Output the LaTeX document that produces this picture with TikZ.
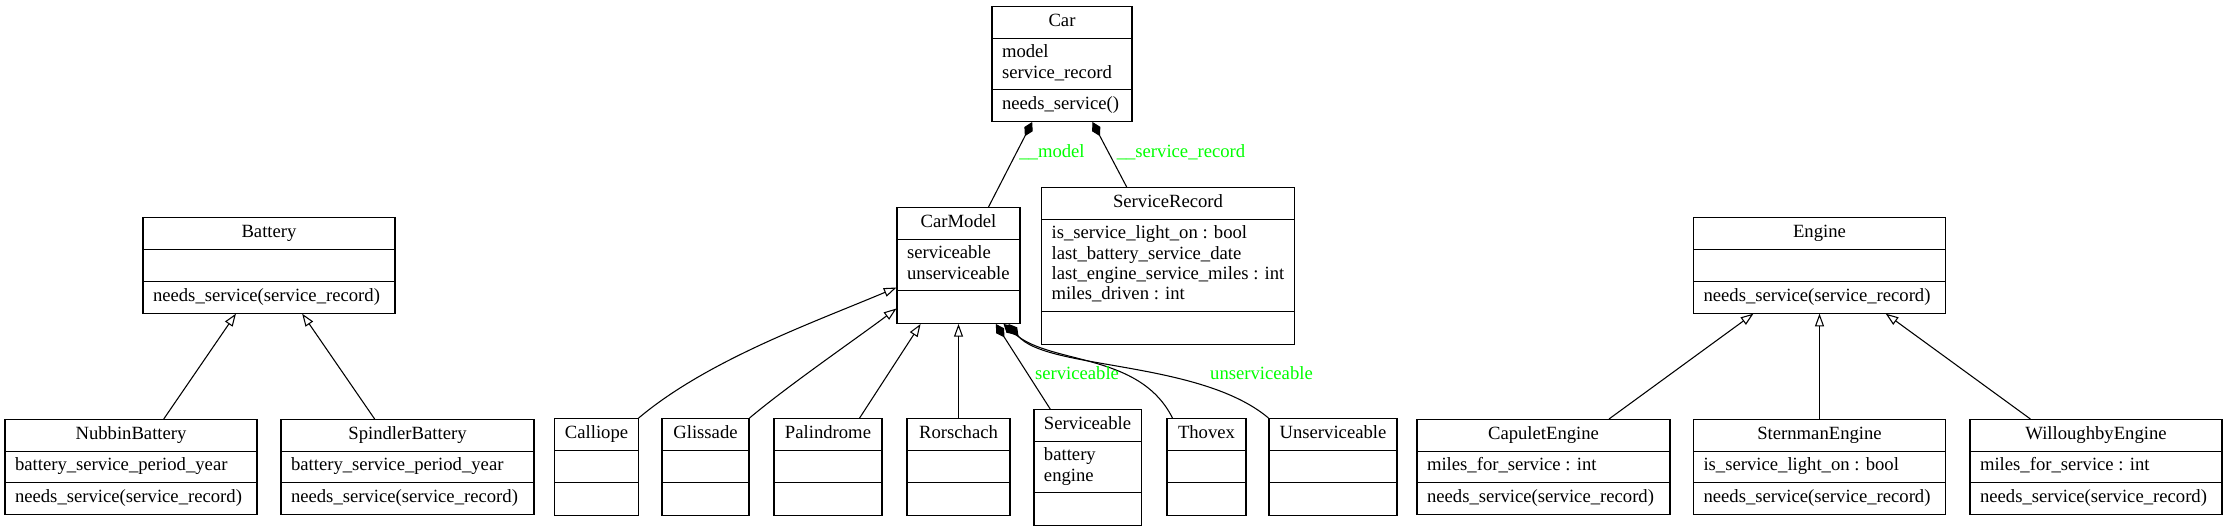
\documentclass[tikz,border=0pt]{standalone}
\usepackage{fontspec}
\setmainfont{Liberation Serif}
\usetikzlibrary{shapes.multipart,arrows.meta,calc}

% height of an empty compartment
\newcommand{\nofield}{\rule[-4.3pt]{0pt}{16pt}}

\begin{document}
\begin{tikzpicture}[x=0.75pt,y=-0.75pt,
    font=\fontsize{14pt}{15.25pt}\selectfont,
    uml/.style={draw, line width=0.8pt, anchor=north,
      rectangle split, rectangle split parts=3,
      rectangle split part align={center,left,left}, align=left,
      inner xsep=7.5pt, inner ysep=3.8pt, minimum width=#1*0.75pt},
    lbl/.style={text=green, inner sep=0pt},
    isa/.style={line width=0.8pt, -{Triangle[open,length=9.5pt,width=6.75pt]}},
    owns/.style={line width=0.8pt, {Diamond[length=12pt,width=7pt]}-}]
    \path[use as bounding box, fill=white] (0,0) rectangle (2223,527);

    % top
    \node[uml=140] (car) at (1062,6) {\strut Car%
      \nodepart{two}\strut model\\\strut service\_record%
      \nodepart{three}\strut needs\_service()};
    \node[uml=123] (carmodel) at (958.5,207) {\strut CarModel%
      \nodepart{two}\strut serviceable\\\strut unserviceable%
      \nodepart{three}\nofield};
    \node[uml=248] (record) at (1168,187) {\strut ServiceRecord%
      \nodepart{two}\strut is\_service\_light\_on : bool\\\strut last\_battery\_service\_date\\%
      \strut last\_engine\_service\_miles : int\\\strut miles\_driven : int%
      \nodepart{three}\nofield};
    \node[uml=252] (battery) at (269,217) {\strut Battery%
      \nodepart{two}\nofield
      \nodepart{three}\strut needs\_service(service\_record)};
    \node[uml=252] (engine) at (1819.5,217) {\strut Engine%
      \nodepart{two}\nofield
      \nodepart{three}\strut needs\_service(service\_record)};

    % batteries and engines
    \node[uml=252] (nubbin) at (131,419) {\strut NubbinBattery%
      \nodepart{two}\strut battery\_service\_period\_year%
      \nodepart{three}\strut needs\_service(service\_record)};
    \node[uml=253] (spindler) at (407.5,419) {\strut SpindlerBattery%
      \nodepart{two}\strut battery\_service\_period\_year%
      \nodepart{three}\strut needs\_service(service\_record)};
    \node[uml=253] (capulet) at (1543.5,419) {\strut CapuletEngine%
      \nodepart{two}\strut miles\_for\_service : int%
      \nodepart{three}\strut needs\_service(service\_record)};
    \node[uml=252] (sternman) at (1819.5,419) {\strut SternmanEngine%
      \nodepart{two}\strut is\_service\_light\_on : bool%
      \nodepart{three}\strut needs\_service(service\_record)};
    \node[uml=252] (willoughby) at (2096,419) {\strut WilloughbyEngine%
      \nodepart{two}\strut miles\_for\_service : int%
      \nodepart{three}\strut needs\_service(service\_record)};

    % car models
    \node[uml=83] (calliope) at (596.5,418) {\strut Calliope\nodepart{two}\nofield\nodepart{three}\nofield};
    \node[uml=87] (glissade) at (705.5,418) {\strut Glissade\nodepart{two}\nofield\nodepart{three}\nofield};
    \node[uml=108] (palindrome) at (828,418) {\strut Palindrome\nodepart{two}\nofield\nodepart{three}\nofield};
    \node[uml=103] (rorschach) at (958.5,418) {\strut Rorschach\nodepart{two}\nofield\nodepart{three}\nofield};
    \node[uml=107] (serviceable) at (1087.5,409) {\strut Serviceable%
      \nodepart{two}\strut battery\\\strut engine%
      \nodepart{three}\nofield};
    \node[uml=79] (thovex) at (1206.5,418) {\strut Thovex\nodepart{two}\nofield\nodepart{three}\nofield};
    \node[uml=128] (unserviceable) at (1333,418) {\strut Unserviceable\nodepart{two}\nofield\nodepart{three}\nofield};

    % composition
    \draw[owns] (car) -- (carmodel);
    \draw[owns] (car) -- (record);
    \draw[owns] (carmodel) -- (serviceable);
    \draw[owns] ($(carmodel.south east)+(-17,0)$) .. controls +(47,41) and +(-33,-66) .. ($(thovex.north west)+(6,0)$);
    \draw[owns] ($(carmodel.south east)+(-12,0)$) .. controls +(37,46) and +(-69,-58) .. (unserviceable.north west);
    \node[lbl] (lmodel) at (1052,152) {\_\_model};
    \node[lbl] (lrecord) at (1181,152) {\_\_service\_record};
    \node[lbl] (lserv) at (1077,373) {serviceable};
    \node[lbl] (lunserv) at (1261.5,373) {unserviceable};

    % inheritance
    \draw[isa] (nubbin) -- (battery);
    \draw[isa] (spindler) -- (battery);
    \draw[isa] (capulet) -- (engine);
    \draw[isa] (sternman) -- (engine);
    \draw[isa] (willoughby) -- (engine);
    \draw[isa] (calliope.north east) .. controls +(69,-58) and +(-83,35) .. ($(carmodel.west)+(0,22)$);
    \draw[isa] (glissade.north east) .. controls +(38,-32) and +(-40,30) .. ($(carmodel.west)+(0,43)$);
    \draw[isa] (palindrome) -- (carmodel);
    \draw[isa] (rorschach) -- (carmodel);
\end{tikzpicture}
\end{document}
